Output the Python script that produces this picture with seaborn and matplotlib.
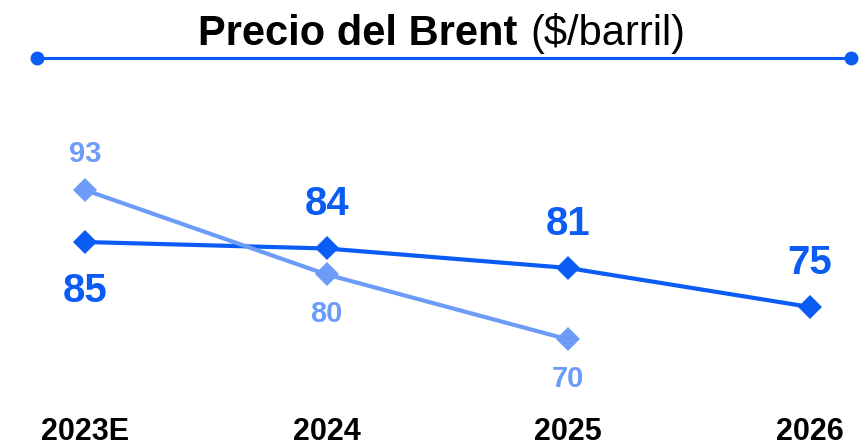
import matplotlib
matplotlib.use("Agg")
import matplotlib.pyplot as plt
from matplotlib.lines import Line2D
import seaborn as sns
import pandas as pd

# Brent price forecasts ($/barrel)
years = ["2023E", "2024", "2025", "2026"]
current_values = [85, 84, 81, 75]
previous_values = [93, 80, 70]

DARK = "#0A5CF5"
LIGHT = "#6C9CF8"

sns.set_style("white")
plt.rcParams["font.family"] = ["Liberation Sans", "DejaVu Sans"]

rows = []
for i, v in enumerate(current_values):
    rows.append({"pos": i, "value": v, "serie": "actual"})
for i, v in enumerate(previous_values):
    rows.append({"pos": i, "value": v, "serie": "anterior"})
df = pd.DataFrame(rows)

W, H = 866, 447
fig = plt.figure(figsize=(W / 100, H / 100), dpi=100)
ax = fig.add_axes([0, (H - 415) / H, 1, 415 / H])

sns.lineplot(
    data=df, x="pos", y="value", hue="serie",
    hue_order=["actual", "anterior"],
    palette={"actual": DARK, "anterior": LIGHT},
    marker="D", markersize=12.5, markeredgewidth=0,
    linewidth=3, legend=False, ax=ax,
)

ax.set_xlim(-85 * 3 / 725, 3 + 56 * 3 / 725)
ax.set_ylim(85 - (415 - 242) / 6.5, 85 + 242 / 6.5)

# value labels
dark_offsets = [-35, 32, 32, 32]
for i, (v, off) in enumerate(zip(current_values, dark_offsets)):
    ax.annotate(str(v), (i, v), xytext=(0, off), textcoords="offset points",
                ha="center", va="center", fontsize=29, fontweight="bold",
                color=DARK)
light_offsets = [26, -28.5, -28.5]
for i, (v, off) in enumerate(zip(previous_values, light_offsets)):
    ax.annotate(str(v), (i, v), xytext=(0, off), textcoords="offset points",
                ha="center", va="center", fontsize=21, fontweight="bold",
                color=LIGHT)

ax.set_xticks(range(len(years)))
ax.set_xticklabels(years, fontsize=22, fontweight="bold", color="black")
ax.tick_params(axis="x", length=0, pad=1.5)
ax.set_yticks([])
ax.set_xlabel("")
ax.set_ylabel("")
for s in ax.spines.values():
    s.set_visible(False)

# title
fig.text(198 / W, (H - 45) / H, "Precio del Brent", fontsize=30,
         fontweight="bold", ha="left", va="baseline", color="black")
fig.text(530 / W, (H - 45) / H, "($/barril)", fontsize=30,
         ha="left", va="baseline", color="black")

# rule under the title with round ends
yl = (H - 57.5) / H
fig.add_artist(Line2D([37 / W, 851 / W], [yl, yl], transform=fig.transFigure,
                      color=DARK, linewidth=2.2, marker="o", markersize=9,
                      markevery=[0, 1]))

fig.savefig("out.png", dpi=100)
